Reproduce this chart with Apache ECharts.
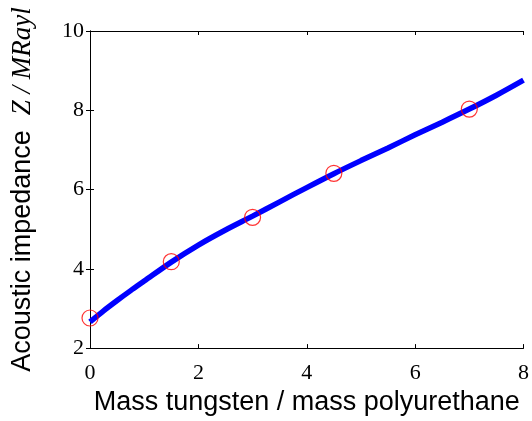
<!DOCTYPE html>
<html>
<head>
<meta charset="utf-8">
<script src="https://cdn.jsdelivr.net/npm/echarts@6/dist/echarts.min.js"></script>
<style>
html,body{margin:0;padding:0;background:#fff;}
#chart{width:532px;height:421px;}
</style>
</head>
<body>
<div id="chart"></div>
<script>
// measured points (red circles)
var measX=[0,1.5,3,4.5,7];
var measZ=[2.76,4.18,5.3,6.41,8.03];
// fitted curve (blue line)
var fitX=[0,0.25,0.5,0.75,1,1.5,2,2.5,3,3.5,4,4.5,5,5.5,6,6.5,7,7.5,8];
var fitZ=[2.66,2.94,3.2,3.45,3.69,4.17,4.6,4.98,5.33,5.69,6.05,6.4,6.73,7.05,7.38,7.7,8.03,8.38,8.76];
var xTicks=[0,2,4,6,8];
var yTicks=[2,4,6,8,10];

var fitData=[],measData=[];
for(var i=0;i<fitX.length;i++){fitData.push([fitX[i],fitZ[i]]);}
for(var i=0;i<measX.length;i++){measData.push([measX[i],measZ[i]]);}

var serif='"Liberation Serif","Times New Roman",serif';
var sans='"Liberation Sans",Arial,sans-serif';
var axLine={show:true,lineStyle:{color:'#000',width:1}};
var axTick={show:true,inside:true,length:4,lineStyle:{color:'#000'}};

var option={
    animation:false,
    grid:{left:90,top:31,right:8,bottom:69},
    xAxis:[
        {
            type:'value',min:xTicks[0],max:xTicks[xTicks.length-1],interval:2,
            axisLine:axLine,axisTick:axTick,splitLine:{show:false},
            axisLabel:{color:'#000',fontFamily:serif,fontSize:22,margin:14},
            name:'Mass tungsten / mass polyurethane',nameLocation:'middle',nameGap:40,
            nameTextStyle:{color:'#000',fontFamily:sans,fontSize:27}
        },
        {
            type:'value',position:'top',min:0,max:8,interval:2,
            axisLine:axLine,axisTick:axTick,axisLabel:{show:false},splitLine:{show:false}
        }
    ],
    yAxis:[
        {
            type:'value',min:yTicks[0],max:yTicks[yTicks.length-1],interval:2,
            axisLine:axLine,axisTick:axTick,splitLine:{show:false},
            axisLabel:{color:'#000',fontFamily:serif,fontSize:22,margin:6},
            name:'{a|Acoustic impedance  }{b|Z / MRayl}',nameLocation:'middle',nameGap:54,nameRotate:90,
            nameTextStyle:{color:'#000',rich:{
                a:{fontFamily:sans,fontSize:27,color:'#000'},
                b:{fontFamily:serif,fontSize:27,fontStyle:'italic',color:'#000'}
            }}
        },
        {
            type:'value',position:'right',min:2,max:10,interval:2,
            axisLine:axLine,axisTick:axTick,axisLabel:{show:false},splitLine:{show:false}
        }
    ],
    series:[
        {
            name:'fit',type:'line',data:fitData,smooth:0.3,showSymbol:false,
            lineStyle:{color:'#0000ff',width:5.5},z:2
        },
        {
            name:'measured',type:'scatter',data:measData,symbol:'circle',symbolSize:16,
            itemStyle:{color:'rgba(0,0,0,0)',borderColor:'#ff0000',borderWidth:1.2},z:3
        }
    ]
};
var mychart=echarts.init(document.getElementById("chart"));
mychart.setOption(option);
</script>
</body>
</html>
